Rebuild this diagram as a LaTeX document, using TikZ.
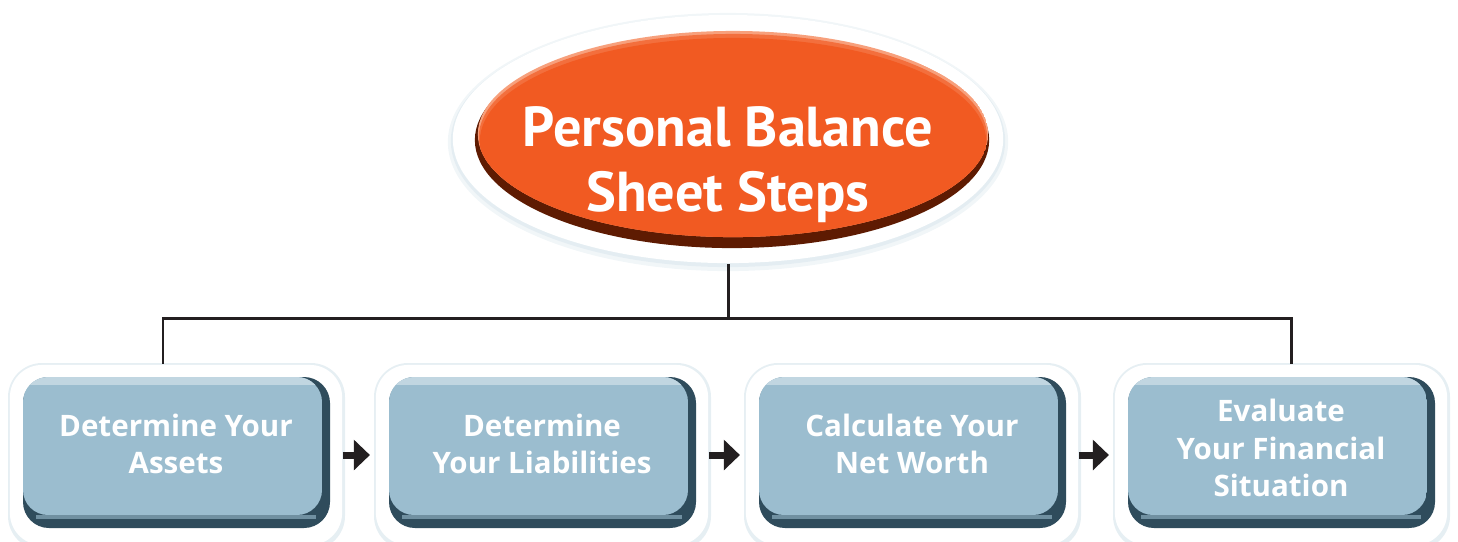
\documentclass[tikz,border=0pt]{standalone}
\usepackage{fontspec}
\setmainfont{PT Sans}
\newfontfamily\stepfont{Open Sans}
\usetikzlibrary{positioning, arrows.meta, shapes.geometric}
\definecolor{orangefill}{HTML}{F15A22}
\definecolor{orangedark}{HTML}{5E1B02}
\definecolor{orangelight}{HTML}{F7A07C}
\definecolor{boxfill}{HTML}{9BBDCF}
\definecolor{boxdark}{HTML}{2F4C5C}
\definecolor{boxlight}{HTML}{C1D6E1}
\definecolor{glow}{HTML}{DCE8EE}
\definecolor{arrowink}{HTML}{231F20}
\tikzset{
  halo/.style={rectangle, fill=white, rounded corners=3.2mm, minimum width=33.2mm, minimum height=18mm, inner sep=0pt},
  boxtext/.style={align=center, text=white, font=\stepfont\fontsize{8.4}{10.6}\selectfont\bfseries},
  link/.style={draw=arrowink, line width=0.85pt},
  steparrow/.style={draw=arrowink, line width=2pt, -{Triangle[length=4.6pt, width=8.5pt]}, shorten >=1.5pt},
}

\begin{document}
\begin{tikzpicture}[x=0.01cm, y=-0.01cm]
    \useasboundingbox (0,0) rectangle (1458,541);

    % title oval
    \fill[glow, opacity=0.4] (728,142) ellipse [x radius=2.8cm, y radius=1.29cm];
    \fill[glow, opacity=0.6] (728,141) ellipse [x radius=2.77cm, y radius=1.26cm];
    \node[ellipse, fill=white, minimum width=5.5cm, minimum height=2.48cm, inner sep=0pt] (top) at (728,139) {};
    \fill[orangedark] (732,140) ellipse [x radius=2.57cm, y radius=1.08cm];
    \begin{scope}
      \clip (733,134) ellipse [x radius=2.55cm, y radius=1.03cm];
      \fill[orangelight] (733,134) ellipse [x radius=2.55cm, y radius=1.03cm];
      \fill[orangefill!70!orangelight] (733,137) ellipse [x radius=2.54cm, y radius=1.03cm];
      \fill[orangefill] (733,141) ellipse [x radius=2.53cm, y radius=1.03cm];
    \end{scope}
    \node[align=center, text=white, font=\fontsize{16}{18.5}\selectfont\bfseries] (title) at (728,165) {Personal Balance\\Sheet Steps};

    % step boxes
    \foreach \i/\cx/\ty/\txt in {1/176/444/{Determine Your\\Assets},
                                 2/542/444/{Determine\\Your Liabilities},
                                 3/912/444/{Calculate Your\\Net Worth},
                                 4/1281/448/{Evaluate\\Your Financial\\Situation}} {
      \fill[glow, opacity=0.7, rounded corners=3.4mm] (\cx-168,363) rectangle (\cx+169,550);
      \node[halo] (h\i) at (\cx,455) {};
      \fill[boxdark, rounded corners=2.6mm] (\cx-153,377) rectangle (\cx+154,528);
      \begin{scope}
        \clip[rounded corners=2.5mm] (\cx-153,377) rectangle (\cx+146,515);
        \fill[boxfill] (\cx-153,377) rectangle (\cx+146,515);
        \fill[boxlight] (\cx-153,377) rectangle (\cx+146,385);
      \end{scope}
      \fill[boxfill!60!boxdark] (\cx-140,515) rectangle (\cx+140,519);
      \node[boxtext] (t\i) at (\cx,\ty) {\txt};
    }

    % connectors
    \coordinate (bus) at (728,318);
    \draw[link] (top.south) -- (bus);
    \draw[link] (bus) -| ([xshift=-1.3mm]h1.north);
    \draw[link] (bus) -| ([xshift=1mm]h4.north);
    \draw[steparrow] (h1.east) -- (h2.west);
    \draw[steparrow] (h2.east) -- (h3.west);
    \draw[steparrow] (h3.east) -- (h4.west);
\end{tikzpicture}
\end{document}
